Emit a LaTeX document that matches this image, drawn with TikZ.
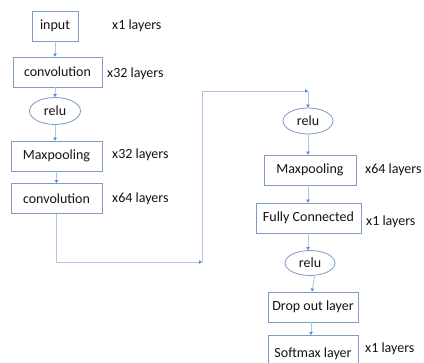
\documentclass[tikz,border=0pt]{standalone}
\usepackage{fontspec}
\setmainfont{Carlito}
\usetikzlibrary{arrows.meta,shapes.geometric}
\definecolor{boxc}{HTML}{7F9CC6}
\definecolor{linec}{HTML}{A9C8E8}
\definecolor{tipc}{HTML}{5B8FD0}
\definecolor{txt}{HTML}{141414}
\tikzset{
  box/.style={draw=boxc, line width=0.8pt, minimum height=30pt, inner sep=0pt,
    font=\fontsize{14}{16}\selectfont, text=txt},
  oval/.style={draw=boxc, line width=0.8pt, ellipse, minimum width=51pt,
    minimum height=27pt, inner sep=0pt, font=\fontsize{14}{16}\selectfont, text=txt},
  lay/.style={anchor=west, inner sep=0pt, font=\fontsize{14}{16}\selectfont, text=txt},
  conn/.style={draw=linec, line width=0.8pt,
    -{Triangle[width=3.5pt,length=3pt,color=tipc]}},
  seg/.style={draw=linec, line width=0.8pt}
}
\begin{document}
\begin{tikzpicture}[x=1pt,y=-1pt]
\useasboundingbox (0,0) rectangle (424,363);
\clip (0,0) rectangle (424,363);
\fill[white] (0,0) rectangle (424,363);

% left column
\node[box, minimum width=46pt] (input) at (55,26) {input};
\node[box, minimum width=89pt] (conv1) at (57.5,72) {convolution};
\node[oval] (relu1) at (55,111) {relu};
\node[box, minimum width=91pt] (pool1) at (56.5,156) {Maxpooling};
\node[box, minimum width=91pt] (conv2) at (56.5,198.5) {convolution};

\node[lay] (l1) at (112,26) {x1 layers};
\node[lay] (l2) at (107,74) {x32 layers};
\node[lay] (l3) at (112,155) {x32 layers};
\node[lay] (l4) at (112,199) {x64 layers};

% right column
\node[oval, minimum width=50pt, minimum height=26pt] (relu2) at (308,121) {relu};
\node[box, minimum width=92pt] (pool2) at (310,170) {Maxpooling};
\node[box, minimum width=105pt] (fc) at (308.5,218) {Fully Connected};
\node[oval, minimum width=50pt, minimum height=25pt] (relu3) at (310,263) {relu};
\node[box, minimum width=90pt] (drop) at (313,307) {Drop out layer};
\node[box, minimum width=90pt, minimum height=36pt, anchor=north] (soft) at (313,335) {Softmax layer};

\node[lay] (l5) at (365,170) {x64 layers};
\node[lay] (l6) at (366,222) {x1 layers};
\node[lay] (l7) at (365,349) {x1 layers};

% chain of the left column
\draw[conn] (input.south) -- (input.south |- conv1.north);
\draw[conn] (conv1.south -| relu1.north) -- (relu1.north);
\draw[conn] (relu1.south) -- (relu1.south |- pool1.north);
\draw[conn] (pool1.south) -- (pool1.south |- conv2.north);

% link between the two columns
\coordinate (c1) at (202,262);
\coordinate (c2) at (308,91);
\draw[conn] (conv2.south) |- (c1);
\draw[seg] (c1) |- (c2);
\draw[conn] (c1 |- c2) -- (c2);
\draw[conn] (c2) -- (relu2.north);

% chain of the right column
\draw[conn] (relu2.south) -- (relu2.south |- pool2.north);
\draw[conn] (pool2.south -| relu2.south) -- (relu2.south |- fc.north);
\draw[conn] (fc.south -| relu2.south) -- (relu2.south |- relu3.north);
\draw[conn] (relu3.-70) -- ([xshift=-1pt]drop.north);
\draw[conn] ([xshift=-2pt]drop.south) -- ([xshift=-2pt]soft.north);
\end{tikzpicture}
\end{document}
